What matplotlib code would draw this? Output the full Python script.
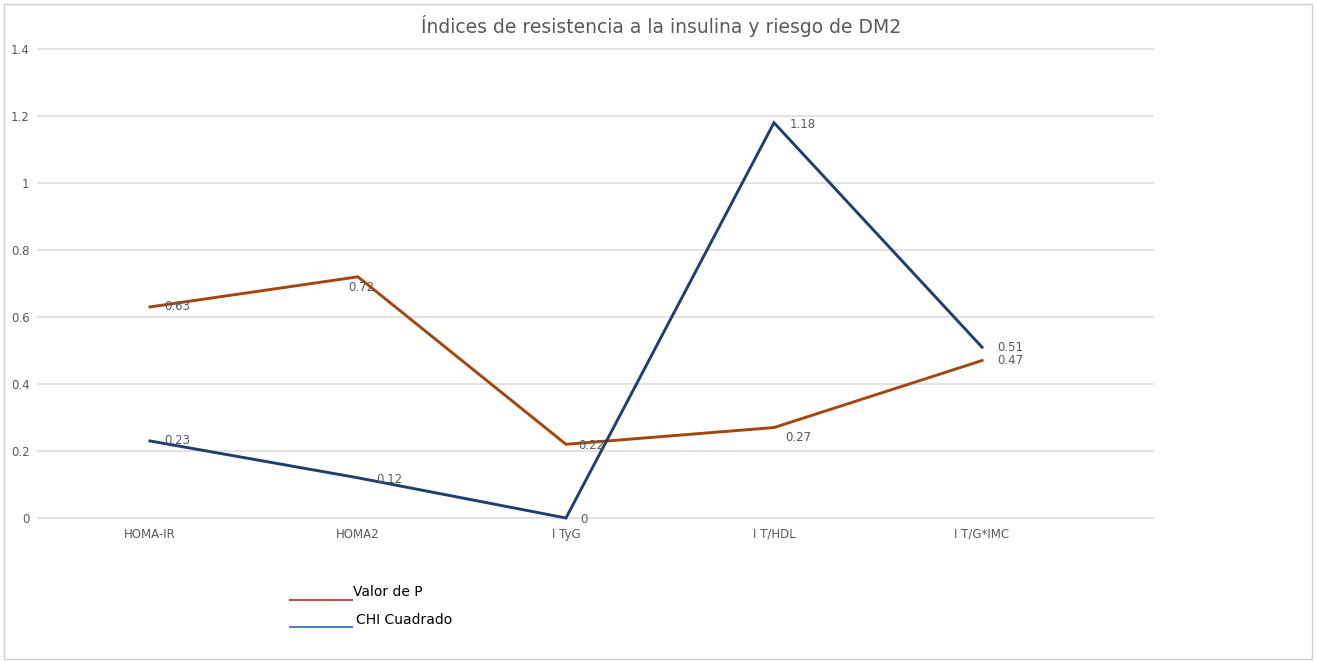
import matplotlib
matplotlib.use("Agg")
from matplotlib import pyplot as plt
from matplotlib.lines import Line2D

categorias = ["HOMA-IR", "HOMA2", "I TyG", "I T/HDL", "I T/G*IMC"]
valor_p = [0.63, 0.72, 0.22, 0.27, 0.47]
chi_cuadrado = [0.23, 0.12, 0, 1.18, 0.51]
y_ticks = [0, 0.2, 0.4, 0.6, 0.8, 1, 1.2, 1.4]
y_labels = ["0", "0.2", "0.4", "0.6", "0.8", "1", "1.2", "1.4"]

color_p = "#A3460F"
color_chi = "#213E6F"
gris = "#595959"

fig = plt.figure(figsize=(13.17, 6.61), dpi=100)
ax = fig.add_axes([38/1317, 1-518/661, (1153-38)/1317, (518-49)/661])

# lineas de cuadricula (sin recortar la de 0)
for t in y_ticks:
    ax.axhline(t, color="#DDDDDD", lw=1.2, clip_on=False, zorder=1)

x = list(range(len(categorias)))
ax.plot(x, valor_p, color=color_p, lw=2.1, solid_joinstyle="miter", clip_on=False, zorder=3)
ax.plot(x, chi_cuadrado, color=color_chi, lw=2.1, solid_joinstyle="miter", clip_on=False, zorder=3)

# etiquetas de datos, desplazadas como en el original
off_p = [(10, 0), (-7, -8), (9, -1), (8, -7), (11, 0)]
off_chi = [(10, 0), (13, -1), (10, -1), (11, -1), (11, 0)]
for i in x:
    ax.annotate(f"{valor_p[i]:g}", (i, valor_p[i]), xytext=off_p[i], textcoords="offset points",
                fontsize=8.5, color=gris, va="center", ha="left", zorder=4)
    ax.annotate(f"{chi_cuadrado[i]:g}", (i, chi_cuadrado[i]), xytext=off_chi[i], textcoords="offset points",
                fontsize=8.5, color=gris, va="center", ha="left", zorder=4)

ax.set_xlim(-0.538, 4.822)
ax.set_ylim(0, 1.4)
ax.set_yticks(y_ticks)
ax.set_yticklabels(y_labels)
ax.set_xticks(x)
ax.set_xticklabels(categorias)
ax.tick_params(axis="both", length=0, labelsize=8.5, colors=gris)
ax.tick_params(axis="y", pad=6)
ax.tick_params(axis="x", pad=7)
for s in ax.spines.values():
    s.set_visible(False)

fig.text(661/1317, 1-26/661, "Índices de resistencia a la insulina y riesgo de DM2",
         ha="center", va="center", fontsize=13.5, color=gris)

# leyenda dibujada a mano
fig.add_artist(Line2D([290/1317, 352/1317], [1-600/661, 1-600/661], color="#C0504D", lw=1.5))
fig.add_artist(Line2D([290/1317, 352/1317], [1-627/661, 1-627/661], color="#4F81BD", lw=1.5))
fig.text(353/1317, 1-592/661, "Valor de P", fontsize=10, color="black", va="center", ha="left")
fig.text(356/1317, 1-620/661, "CHI Cuadrado", fontsize=10, color="black", va="center", ha="left")

# marco exterior
fig.add_artist(plt.Rectangle((4/1317, 2/661), 1308/1317, 655/661, fill=False,
                             edgecolor="#D0D0D0", lw=1, transform=fig.transFigure))

fig.savefig("out.png", dpi=100)
